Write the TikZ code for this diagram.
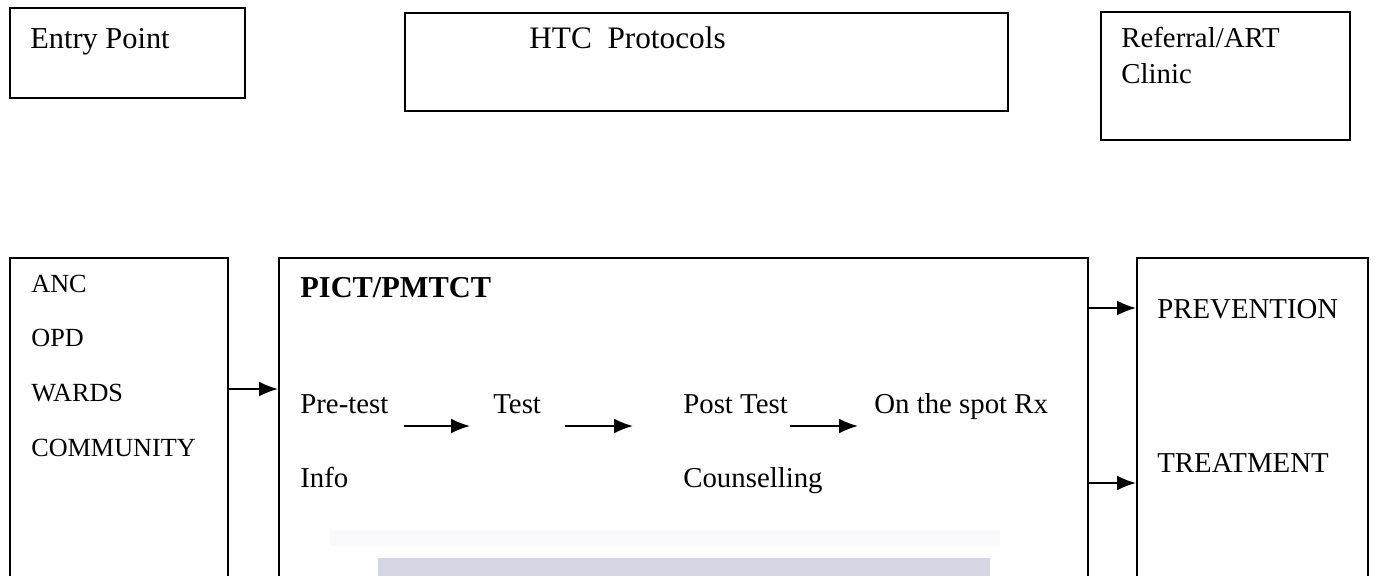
\documentclass[tikz,border=0pt]{standalone}
\usepackage{fontspec}
\setmainfont{Liberation Serif}
\usetikzlibrary{arrows.meta,positioning}

\definecolor{bandgray}{RGB}{214,214,229}
\definecolor{bandpale}{RGB}{250,250,252}

\begin{document}
\begin{tikzpicture}[x=0.02cm, y=-0.02cm]
    \tikzset{
      rectnode/.style={rectangle,draw=black,line width=1.1pt,inner sep=0pt,anchor=north west},
      textnode/.style={inner sep=0pt,anchor=base west,font=\fontsize{16.4}{20}\selectfont},
      listnode/.style={textnode,font=\fontsize{14.9}{18}\selectfont},
      headnode/.style={textnode,font=\fontsize{17.3}{21}\selectfont},
      arrow/.style={-{Latex[length=0.38cm,width=0.3cm]},line width=1.1pt}
    }
    \useasboundingbox (0,0) rectangle (1375,575);
    \clip (0,0) rectangle (1375,575);

    % faint band near the bottom
    \fill[bandpale] (330,530) rectangle (1000,546);
    \fill[bandgray] (378,558) rectangle (990,580);

    % top row
    \node[rectnode,minimum width=4.7cm,minimum height=1.8cm](entry) at (9,7){};
    \node[rectnode,minimum width=12.06cm,minimum height=1.96cm](htc) at (404,12){};
    \node[rectnode,minimum width=4.98cm,minimum height=2.56cm](referral) at (1100,11){};
    \node[headnode](entrytext) at (30,48){Entry Point};
    \node[headnode,font=\fontsize{17.8}{21}\selectfont](htctext) at (529,48){HTC\ \ Protocols};
    \node[textnode](referraltext) at (1121,47){Referral/ART};
    \node[textnode](clinictext) at (1121,83){Clinic};

    % bottom row
    \node[rectnode,minimum width=4.36cm,minimum height=7.66cm](sources) at (9,257){};
    \node[rectnode,minimum width=16.18cm,minimum height=7.66cm](pict) at (278,257){};
    \node[rectnode,minimum width=4.62cm,minimum height=7.66cm](outcome) at (1136,257){};

    \node[listnode](anc) at (31,292){ANC};
    \node[listnode](opd) at (31,346){OPD};
    \node[listnode](wards) at (31,401){WARDS};
    \node[listnode](community) at (31,456){COMMUNITY};

    \node[headnode](picttitle) at (300,297){\bfseries PICT/PMTCT};
    \node[textnode](pretest) at (300,413){Pre-test};
    \node[textnode](info) at (300,487){Info};
    \node[textnode](test) at (493,413){Test};
    \node[textnode](posttest) at (683,413){Post Test};
    \node[textnode](counselling) at (683,487){Counselling};
    \node[textnode](spotrx) at (874,413){On the spot Rx};

    \node[textnode](prevention) at (1157,318){PREVENTION};
    \node[textnode](treatment) at (1157,472){TREATMENT};

    \draw[arrow]([shift={(0,132)}]sources.north east) -- ([shift={(0,132)}]pict.north west);
    \draw[arrow]([shift={(15,13)}]pretest.base east) -- ([shift={(-23,13)}]test.base west);
    \draw[arrow]([shift={(24,13)}]test.base east) -- ([shift={(-50,13)}]posttest.base west);
    \draw[arrow]([shift={(2,13)}]posttest.base east) -- ([shift={(-16,13)}]spotrx.base west);
    \draw[arrow]([shift={(0,51)}]pict.north east) -- ([shift={(0,51)}]outcome.north west);
    \draw[arrow]([shift={(0,226)}]pict.north east) -- ([shift={(0,226)}]outcome.north west);
\end{tikzpicture}
\end{document}
